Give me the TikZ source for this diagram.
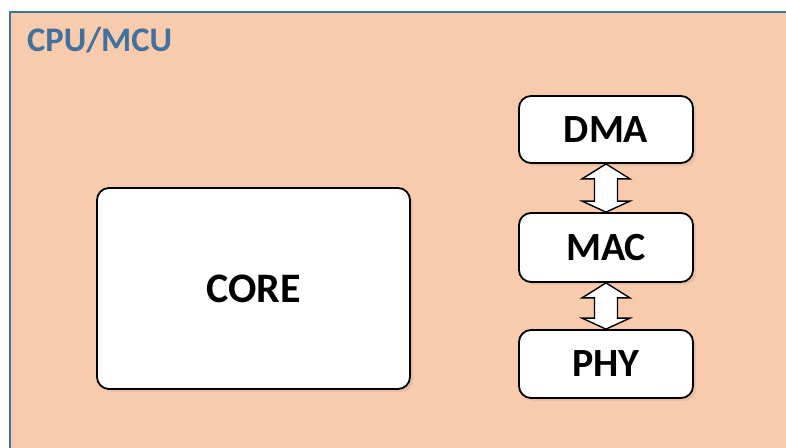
\documentclass[tikz,border=0pt]{standalone}
\usepackage{fontspec}
\setmainfont{Carlito}
\usetikzlibrary{calc,shadows}
\definecolor{peach}{HTML}{F8CBAD}
\definecolor{frameblue}{HTML}{41719C}
\tikzset{
  unit/.style={draw=black, line width=1.8pt, fill=white, rounded corners=12pt,
    inner sep=0pt, font=\bfseries\fontsize{40}{46}\selectfont,
    drop shadow={shadow xshift=3pt, shadow yshift=-3pt, opacity=0.15}},
  linkarrow/.style={draw=black, line width=1.4pt, fill=white, line join=miter}
}
% double-headed block arrow from the bottom of #1 to the top of #2
\newcommand\blockarrow[2]{%
  \path[linkarrow] let \p1=(#1.south), \p2=(#2.north) in
    (\x1,\y1) -- (\x1+24,\y1-15) -- (\x1+11.5,\y1-15) -- (\x1+11.5,\y2+11)
    -- (\x1+24,\y2+11) -- (\x1,\y2) -- (\x1-24,\y2+11) -- (\x1-11.5,\y2+11)
    -- (\x1-11.5,\y1-15) -- (\x1-24,\y1-15) -- cycle;}
\begin{document}
\begin{tikzpicture}[x=1pt,y=1pt]
  \useasboundingbox (0,0) rectangle (786,447);
  \clip (0,0) rectangle (786,447);
  \fill[white] (0,0) rectangle (786,447);
  % chip outline
  \draw[frameblue, line width=1.4pt, fill=peach] (10,-20) rectangle (810,435);
  \node[anchor=base west, text=frameblue, font=\bfseries\fontsize{34.5}{40}\selectfont,
    inner sep=0pt] (chip) at (27,395) {CPU/MCU};
  % blocks
  \node[unit, minimum width=313pt, minimum height=201pt,
    font=\bfseries\fontsize{42}{48}\selectfont] (core) at (253.5,158.5) {CORE};
  \node[unit, minimum width=174pt, minimum height=67pt] (dma) at (606,317.5) {DMA};
  \node[unit, minimum width=174pt, minimum height=69pt] (mac) at (606,199.5) {MAC};
  \node[unit, minimum width=174pt, minimum height=68pt] (phy) at (606,83) {PHY};
  % links
  \blockarrow{dma}{mac}
  \blockarrow{mac}{phy}
\end{tikzpicture}
\end{document}
